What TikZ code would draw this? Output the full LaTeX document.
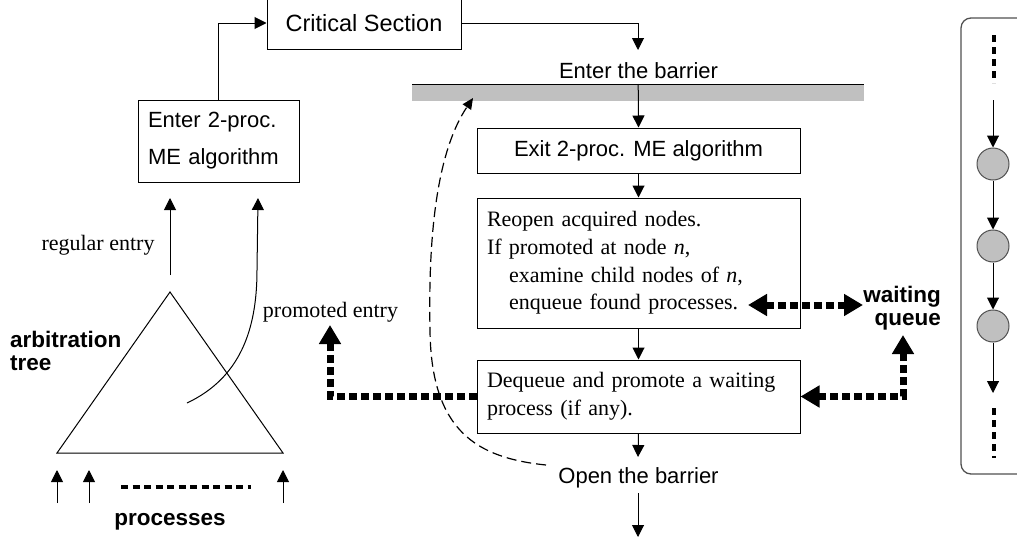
\documentclass[tikz,border=0pt]{standalone}
\usepackage{fontspec}
\setmainfont{Liberation Serif}
\setsansfont{Liberation Sans}
\usetikzlibrary{arrows.meta}
\definecolor{barg}{RGB}{192,192,192}
\definecolor{panelc}{RGB}{80,80,80}
\begin{document}
\begin{tikzpicture}[x=1pt,y=-1pt,
  ln/.style={line width=1pt},
  arr/.style={ln,-{Triangle[length=12pt,width=12pt]}},
  boxn/.style={draw,line width=1pt,inner sep=0pt},
  sft/.style={font=\sffamily\fontsize{22}{26}\selectfont},
  rmt/.style={font=\rmfamily\fontsize{22}{27.7}\selectfont},
  bft/.style={font=\sffamily\bfseries\fontsize{22.5}{23}\selectfont},
  fat/.style={line width=7pt,dash pattern=on 8pt off 4pt},
  fattip/.style={fat,-{Triangle[length=19pt,width=21pt]}},
  fatboth/.style={fat,{Triangle[length=19pt,width=21pt]}-{Triangle[length=19pt,width=21pt]}},
  dsh/.style={line width=1.2pt,dash pattern=on 10pt off 5pt},
  thickdash/.style={line width=3.5pt,dash pattern=on 7pt off 4.5pt},
  qcirc/.style={circle,draw=panelc,line width=1pt,fill=barg,minimum size=32pt,inner sep=0pt},
]
\useasboundingbox (0,0) rectangle (1017,544);

% ---------- central column ----------
\node[boxn,font=\sffamily\fontsize{23.5}{26}\selectfont,minimum width=194pt,minimum height=52pt] (cs) at (364,23) {Critical Section};
\node[sft,inner sep=0pt,anchor=base] (eb) at (638.5,78) {Enter the barrier};
\coordinate (ebin) at (638,50);
\node[fill=barg,minimum width=452pt,minimum height=17pt,inner sep=0pt,anchor=north west] (bar) at (412,84) {};
\draw[ln] (bar.north west) -- (bar.north east);

\node[boxn,sft,minimum width=323pt,minimum height=45pt] (ex) at (638.5,150.5) {Exit 2-proc. ME algorithm};
\node[boxn,rmt,minimum width=323pt,minimum height=130pt,text width=303pt,inner xsep=10pt,align=left] (ro) at (638.5,263)
  {Reopen acquired nodes.\\If promoted at node \textit{n},\\\hspace*{22pt}examine child nodes of \textit{n},\\\hspace*{22pt}enqueue found processes.};
\node[boxn,rmt,minimum width=323pt,minimum height=73pt,text width=303pt,inner xsep=10pt,align=left] (dq) at (638.5,396.5)
  {Dequeue and promote a waiting\\process (if any).};
\coordinate (obin) at (638,457);
\node[sft,inner sep=0pt,anchor=base] (ob) at (638.5,483) {Open the barrier};
\coordinate (obout) at (638,493);
\coordinate (exitend) at (638,537);

\draw[arr] (cs.east) -| (ebin);
\draw[arr] (bar.north) -- (ex.north);
\draw[arr] (ex.south) -- (ro.north);
\draw[arr] (ro.south) -- (dq.north);
\draw[arr] (dq.south) -- (obin);
\draw[arr] (obout) -- (exitend);

% dashed return to barrier
\coordinate (dstart) at (546,465);
\coordinate (dend) at (473,98);
\draw[dsh,-{Triangle[length=11pt,width=10pt]}] (dstart) .. controls (478,458) and (431,432) .. (430,330)
   .. controls (428,230) and (438,150) .. (dend);

% ---------- left side ----------
\node[boxn,minimum width=161pt,minimum height=82pt,text width=141pt,inner xsep=10pt,inner ysep=0pt,align=left,
  font=\sffamily\fontsize{22}{37}\selectfont] (en) at (218.5,141) {Enter 2-proc.\\ME algorithm};
\draw[arr] (en.north) |- (cs.west);

\coordinate (ra) at (170,275);
\coordinate (rb) at (170,198);
\draw[arr] (ra) -- (rb);
\node[rmt,inner sep=0pt,anchor=base] (rl) at (98,250) {regular entry};

\coordinate (pa) at (187,403);
\coordinate (pb) at (258,198);
\draw[arr] (pa) .. controls (240,378) and (257,330) .. (257,270) -- (pb);

\draw[ln] (170,292) -- (57,453) -- (283,453) -- cycle;
\node[bft,inner sep=0pt,anchor=north west,align=left] (at) at (10,331) {arbitration\\tree};

\coordinate (p1a) at (57,503);  \coordinate (p1b) at (57,470);
\coordinate (p2a) at (89,503);  \coordinate (p2b) at (89,470);
\coordinate (p3a) at (283,503); \coordinate (p3b) at (283,470);
\draw[arr] (p1a) -- (p1b);
\draw[arr] (p2a) -- (p2b);
\draw[arr] (p3a) -- (p3b);
\coordinate (da) at (121,487);
\coordinate (db) at (251,487);
\draw[thickdash] (da) -- (db);
\node[bft,inner sep=0pt,anchor=base] (pr) at (170,525) {processes};

\node[rmt,inner sep=0pt,anchor=base] (pe) at (330.5,317) {promoted entry};
\coordinate (petip) at (330,325);
\draw[fattip] (dq.west) -| (petip);

% ---------- waiting queue ----------
\node[bft,inner sep=0pt,anchor=north east,align=right] (wq) at (941,286) {waiting\\queue};
\coordinate (qa) at (748,305);
\coordinate (qb) at (863,305);
\draw[fatboth] (qa) -- (qb);
\coordinate (qc) at (903,335);
\draw[fatboth] (dq.east) -| (qc);

% ---------- right panel ----------
\draw[draw=panelc,line width=1.3pt,rounded corners=10pt] (1040,18) -- (961,18) -- (961,474) -- (1040,474);
\draw[line width=3.5pt,dash pattern=on 7pt off 5pt] (994,35) -- (994,83);
\node[qcirc] (c1) at (993,164) {};
\node[qcirc] (c2) at (993,246) {};
\node[qcirc] (c3) at (993,326) {};
\coordinate (ta) at (993,100);
\coordinate (tb) at (993,393);
\draw[arr] (ta) -- (c1.north);
\draw[arr] (c1.south) -- (c2.north);
\draw[arr] (c2.south) -- (c3.north);
\draw[arr] (c3.south) -- (tb);
\draw[line width=3.5pt,dash pattern=on 7pt off 5pt] (994,408) -- (994,458);
\end{tikzpicture}
\end{document}
